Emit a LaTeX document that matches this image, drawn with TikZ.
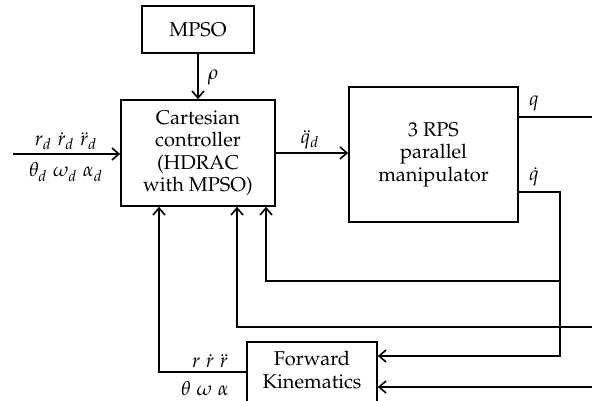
\documentclass[tikz,border=0pt]{standalone}
\usepackage[T1]{fontenc}
\usepackage{mathpazo}
\usetikzlibrary{arrows.meta,calc}
\begin{document}
\begin{tikzpicture}[x=0.5pt,y=-0.5pt, line width=0.8pt,
 box/.style={draw, rectangle, inner sep=0pt, align=center, font=\fontsize{10}{11.2}\selectfont},
 lbl/.style={inner sep=0pt, font=\fontsize{10}{12}\selectfont},
 arr/.style={-{Straight Barb[length=3.5pt,width=6pt]}}]
\useasboundingbox (0,0) rectangle (592,400);
\node[box, minimum width=56pt, minimum height=23.5pt] (mpso) at (198,29.5) {MPSO};
\node[box, minimum width=77pt, minimum height=53pt] (ctrl) at (198,153) {Cartesian\\controller\\(HDRAC\\with MPSO)};
\node[box, minimum width=84.5pt, minimum height=67.5pt] (man) at (433.5,154.5) {3 RPS\\parallel\\manipulator};
\node[box, minimum width=65pt, minimum height=33pt] (fk) at (312,375) {};
\node[lbl, align=center, font=\fontsize{10}{11.5}\selectfont] (fkt) at (312,370) {Forward\\Kinematics};
\coordinate (in) at (13,154);
\coordinate (qend) at (592,117);
\coordinate (c1) at (560,192);
\coordinate (j1) at (560,281);
\coordinate (c2) at (560,356);
\coordinate (b1) at (266,281);
\coordinate (e2) at (592,327);
\coordinate (b2) at (237,327);
\coordinate (e3) at (592,387);
\coordinate (b3) at (159,372);
\draw[arr] (mpso) -- (ctrl);
\draw[arr] (in) -- (in -| ctrl.west);
\draw[arr] (ctrl.east) -- (ctrl.east -| man.west);
\draw (man.east |- qend) -- (qend);
\draw[arr] (man.east |- c1) -- (c1) -- (c2) -- (c2 -| fk.east);
\draw[arr] (j1) -- (b1) -- (b1 |- ctrl.south);
\draw[arr] (e2) -- (b2) -- (b2 |- ctrl.south);
\draw[arr] (e3) -- (e3 -| fk.east);
\draw[arr] (fk.west |- b3) -- (b3) -- (b3 |- ctrl.south);
\node[lbl] (rho) at (213,77) {$\rho$};
\node[lbl] (rd) at (66,141) {$r_d\;\dot r_d\;\ddot r_d$};
\node[lbl] (thd) at (66,172) {$\theta_d\;\omega_d\;\alpha_d$};
\node[lbl] (qdd) at (310,140) {$\ddot q_d$};
\node[lbl] (q) at (534,103) {$q$};
\node[lbl] (qd) at (534,177) {$\dot q$};
\node[lbl] (r) at (210,361) {$r\;\dot r\;\ddot r$};
\node[lbl] (th) at (205,388) {$\theta\;\omega\;\alpha$};
\end{tikzpicture}
\end{document}
